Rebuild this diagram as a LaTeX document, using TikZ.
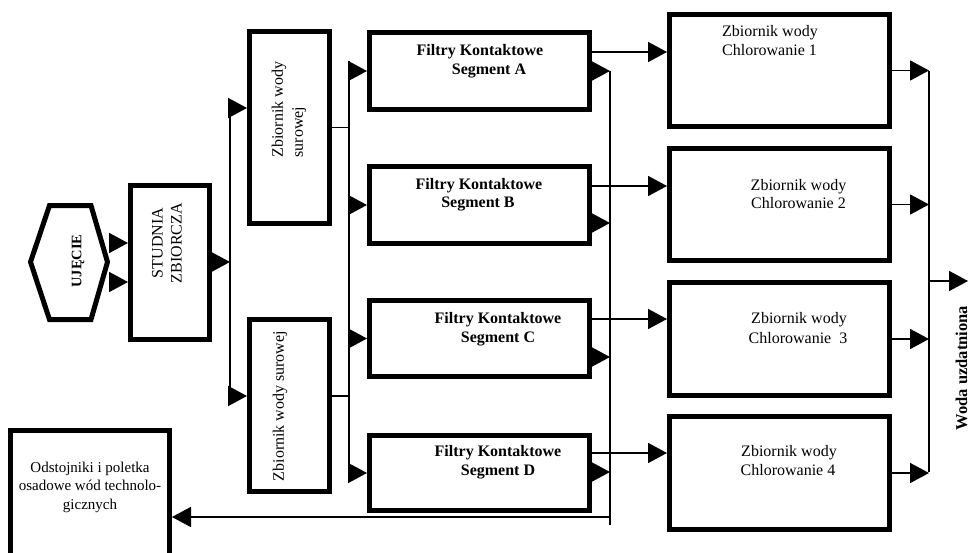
\documentclass[tikz,border=0pt]{standalone}
\usepackage{fontspec}
\setmainfont{Liberation Serif}
\usetikzlibrary{arrows.meta,calc}
\begin{document}
\begin{tikzpicture}[x=1pt,y=-1pt,
  box/.style={draw,line width=5pt,inner sep=0pt},
  conn/.style={line width=1.8pt},
  arr/.style={conn,-{Triangle[length=19pt,width=20pt]}},
  txt/.style={inner sep=0pt,font=\fontsize{16}{19}\selectfont},
  btxt/.style={inner sep=0pt,font=\fontsize{16}{19}\selectfont\bfseries},
  ln/.style={text height=11pt,text depth=3.5pt}]
\useasboundingbox (0,0) rectangle (972,552);
\clip (0,0) rectangle (972,552);
% hexagon
\coordinate (h1) at (30.5,262);
\coordinate (h2) at (49.5,205.5);
\coordinate (h3) at (91,205.5);
\coordinate (h4) at (107.5,262);
\coordinate (h5) at (91,319.5);
\coordinate (h6) at (49.5,319.5);
\coordinate (hexE) at (110,262);
\draw[line width=5pt,line join=miter] (h1) -- (h2) -- (h3) -- (h4) -- (h5) -- (h6) -- cycle;
% boxes
\node[box,minimum width=79pt,minimum height=154pt] (stud) at (170,262.5) {};
\node[box,minimum width=80pt,minimum height=192pt] (zbU) at (289.5,127.5) {};
\node[box,minimum width=80pt,minimum height=172pt] (zbL) at (289.5,405.5) {};
\node[box,minimum width=220pt,minimum height=77pt] (fA) at (479.5,71) {};
\node[box,minimum width=220pt,minimum height=77pt] (fB) at (479.5,205) {};
\node[box,minimum width=220pt,minimum height=76pt] (fC) at (479.5,338.5) {};
\node[box,minimum width=220pt,minimum height=75pt] (fD) at (479.5,473) {};
\node[box,minimum width=220pt,minimum height=112pt] (c1) at (779.5,70.5) {};
\node[box,minimum width=220pt,minimum height=112pt] (c2) at (779.5,204.5) {};
\node[box,minimum width=220pt,minimum height=113pt] (c3) at (779.5,339) {};
\node[box,minimum width=220pt,minimum height=113pt] (c4) at (779.5,473) {};
\node[box,minimum width=159pt,minimum height=170pt] (odst) at (90,515.5) {};
% junction coordinates
\coordinate (j1) at (230,262);
\coordinate (t1a) at (230,108);
\coordinate (t1b) at (230,396);
\coordinate (t2a) at (349,61);
\coordinate (t2b) at (349,482);
\coordinate (t3a) at (610,71);
\coordinate (t3b) at (610,525);
\coordinate (t3h) at (610,517);
\coordinate (t4a) at (929,71);
\coordinate (t4b) at (929,472);
\coordinate (out) at (968,281);
% connectors
\draw[arr] ($(hexE)+(0,-19)$) -- ($(stud.west)+(0,-19.5)$);
\draw[arr] ($(hexE)+(0,20)$) -- ($(stud.west)+(0,19.5)$);
\draw[arr] (stud.east |- j1) -- (j1);
\draw[conn] (t1a) -- (t1b);
\draw[arr] (t1a) -- (t1a -| zbU.west);
\draw[arr] (t1b) -- (t1b -| zbL.west);
\draw[conn] (zbU.east) -- (zbU.east -| t2a);
\draw[conn] (t1b -| zbL.east) -- (t1b -| t2a);
\draw[conn] (t2a) -- (t2b);
\foreach \n in {fA,fB,fC,fD} \draw[arr] (t2a |- \n.west) -- (\n.west);
% filters to chlorination
\draw[arr] ($(fA.east)+(0,-19)$) -- ($(c1.west |- fA.east)+(0,-19)$);
\draw[arr] ($(fB.east)+(0,-19)$) -- ($(c2.west |- fB.east)+(0,-19)$);
\draw[arr] ($(fC.east)+(0,-19.5)$) -- ($(c3.west |- fC.east)+(0,-19.5)$);
\draw[arr] ($(fD.east)+(0,-20)$) -- ($(c4.west |- fD.east)+(0,-20)$);
% filters to waste trunk
\draw[conn] (t3a) -- (t3b);
\draw[arr] (fA.east) -- (fA.east -| t3a);
\draw[arr] ($(fB.east)+(0,18)$) -- ($(t3a |- fB.east)+(0,18)$);
\draw[arr] ($(fC.east)+(0,18.5)$) -- ($(t3a |- fC.east)+(0,18.5)$);
\draw[arr] ($(fD.east)+(0,-1)$) -- ($(t3a |- fD.east)+(0,-1)$);
\draw[arr] (t3h) -- (t3h -| odst.east);
% chlorination outputs
\foreach \n in {c1,c2,c3,c4} \draw[arr] (\n.east) -- (\n.east -| t4a);
\draw[conn] (t4a) -- (t4b);
\draw[arr] (out -| t4a) -- (out);
% texts
\node[btxt,font=\fontsize{14.5}{17}\selectfont\bfseries,rotate=90] (ujt) at (78,261) {UJĘCIE};
\node[txt,rotate=90,align=center] (studt) at (167,243) {STUDNIA\\ZBIORCZA};
\node[txt,rotate=90,align=left,font=\fontsize{16}{20}\selectfont] (zbUt) at (289,109.5) {Zbiornik wody\\surowej};
\node[txt,rotate=90] (zbLt) at (280,406) {Zbiornik wody surowej};
\node[btxt,ln] (fA1) at (480,52) {Filtry Kontaktowe};
\node[btxt,ln] (fA2) at (489,71) {Segment A};
\node[btxt,ln] (fB1) at (479,186) {Filtry Kontaktowe};
\node[btxt,ln] (fB2) at (478,204) {Segment B};
\node[btxt,ln] (fC1) at (498,320) {Filtry Kontaktowe};
\node[btxt,ln] (fC2) at (498,339) {Segment C};
\node[btxt,ln] (fD1) at (498,453) {Filtry Kontaktowe};
\node[btxt,ln] (fD2) at (498,472) {Segment D};
\node[txt,ln,anchor=west] (c1a) at (722,33) {Zbiornik wody};
\node[txt,ln,anchor=west] (c1b) at (722,52) {Chlorowanie 1};
\node[txt,ln] (c2a) at (798.5,187) {Zbiornik wody};
\node[txt,ln] (c2b) at (798.5,205) {Chlorowanie 2};
\node[txt,ln] (c3a) at (799,320) {Zbiornik wody};
\node[txt,ln] (c3b) at (798,340) {Chlorowanie\ \ 3};
\node[txt,ln] (c4a) at (789,453) {Zbiornik wody};
\node[txt,ln] (c4b) at (788,472) {Chlorowanie 4};
\node[txt,align=center,font=\fontsize{15}{18.5}\selectfont] (odt) at (90,487) {Odstojniki i poletka\\osadowe wód technolo-\\gicznych};
\node[btxt,font=\fontsize{16.5}{19}\selectfont\bfseries,rotate=90,anchor=base] (woda) at (967,368) {Woda uzdatniona};
\end{tikzpicture}
\end{document}
